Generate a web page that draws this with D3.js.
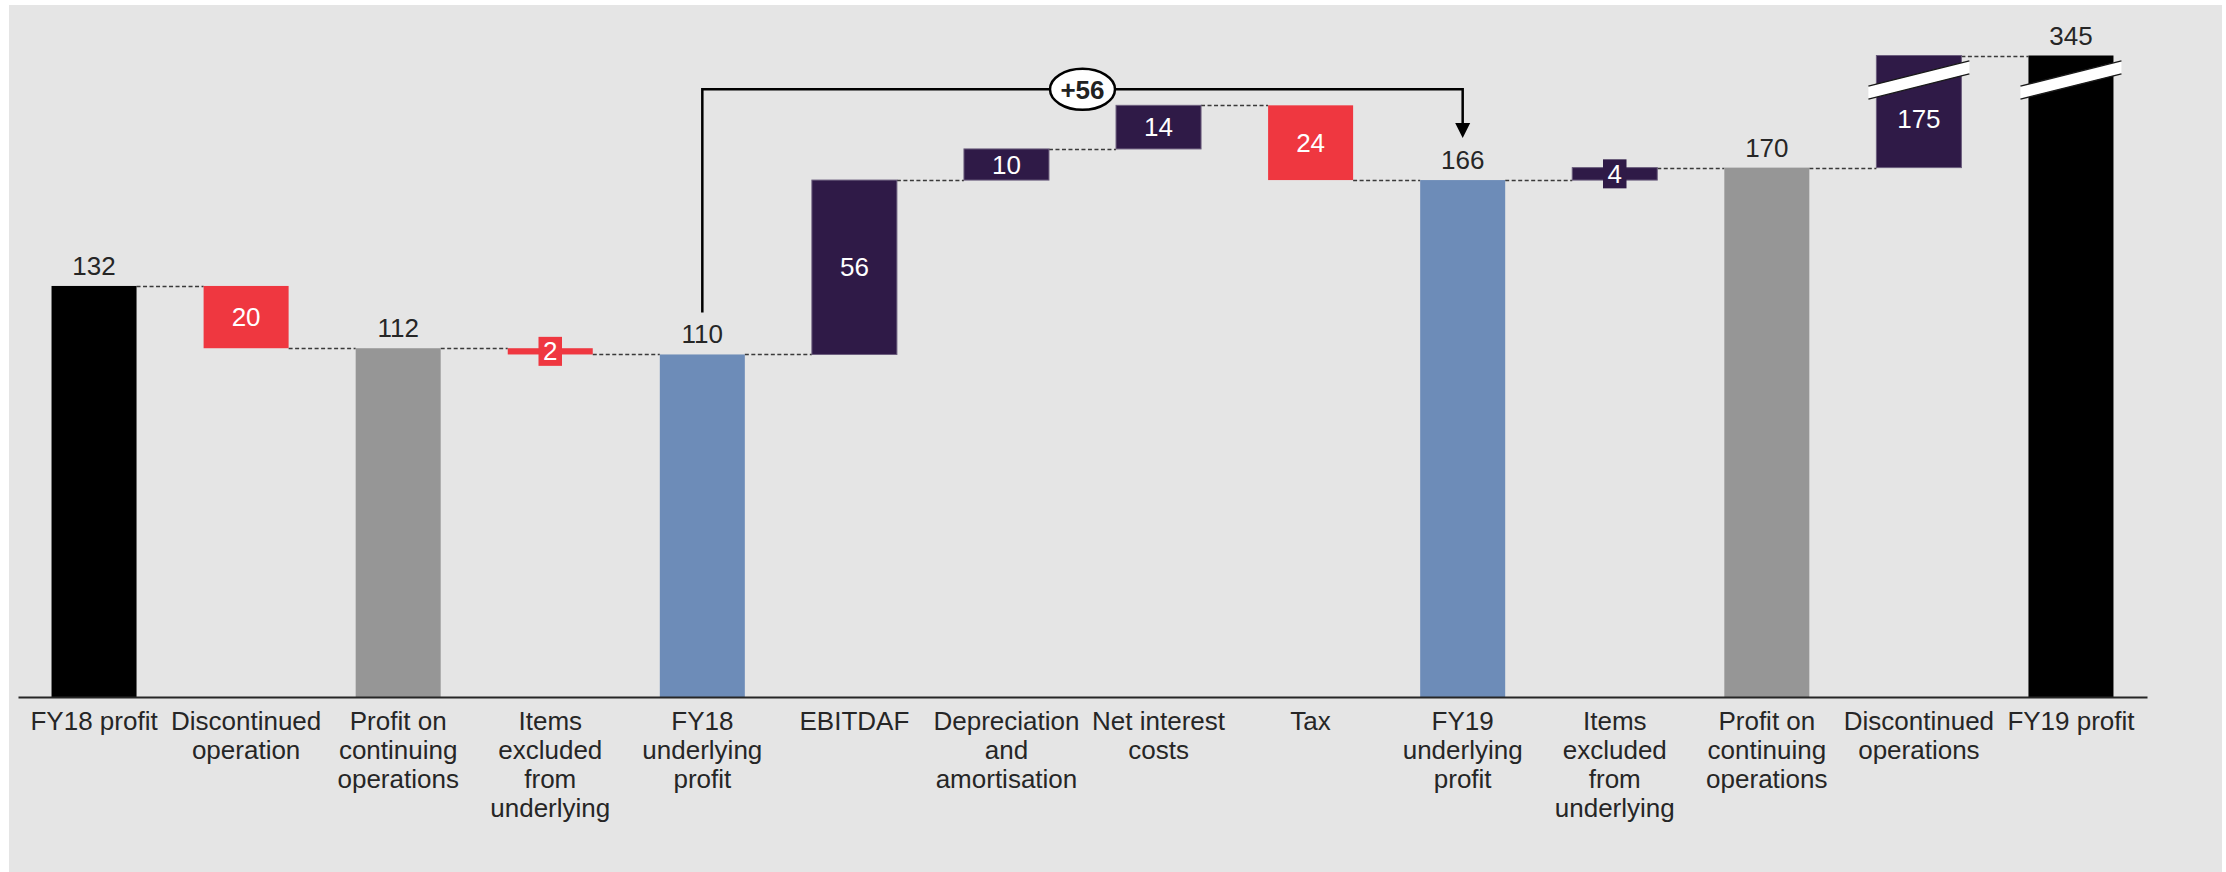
<!DOCTYPE html>
<html>
<head>
<meta charset="utf-8">
<script src="https://cdn.jsdelivr.net/npm/d3@7"></script>
<style>
  html, body { margin: 0; padding: 0; background: #ffffff; }
  svg { display: block; }
  text { font-family: "Liberation Sans", Arial, Helvetica, sans-serif; }
</style>
</head>
<body>
<svg id="chart" width="2226" height="872"></svg>
<script>
// Profit bridge FY18 -> FY19 (waterfall)
const categories = [
  ["FY18 profit"],
  ["Discontinued", "operation"],
  ["Profit on", "continuing", "operations"],
  ["Items", "excluded", "from", "underlying"],
  ["FY18", "underlying", "profit"],
  ["EBITDAF"],
  ["Depreciation", "and", "amortisation"],
  ["Net interest", "costs"],
  ["Tax"],
  ["FY19", "underlying", "profit"],
  ["Items", "excluded", "from", "underlying"],
  ["Profit on", "continuing", "operations"],
  ["Discontinued", "operations"],
  ["FY19 profit"]
];
const values = [132, -20, 112, -2, 110, 56, 10, 14, -24, 166, 4, 170, 175, 345];
const kinds = ["profit", "step", "continuing", "step", "underlying", "step", "step",
               "step", "step", "underlying", "step", "continuing", "step", "profit"];
// underlying-profit bridge drawn as an arrow between these two bars
const bridgeFrom = 4;
const bridgeTo = 9;
// values above this are drawn on a compressed (broken) part of the axis
const breakValue = 200;

const fills = {
  profit: "#000000",
  continuing: "#969696",
  underlying: "#6d8cb8",
  up: "#2f1a47",
  down: "#ef3740"
};
const textColor = "#262626";

const svg = d3.select("#chart");
const W = 2226, H = 872;

// panel background
svg.append("rect").attr("x", 9).attr("y", 5).attr("width", W - 9 - 4).attr("height", H - 5)
  .attr("fill", "#e5e5e5");

const n = values.length;
const x = d3.scaleBand().domain(d3.range(n)).range([18, 2147])
  .paddingInner(0.441).paddingOuter(0.2205);
const bw = x.bandwidth();
const baseY = 697;
const pxPerUnit = 3.114;
const y = d3.scaleLinear()
  .domain([0, breakValue, d3.max(values)])
  .range([baseY, baseY - breakValue * pxPerUnit, 55.5]);

// running totals
let run = 0;
const rows = values.map((v, i) => {
  let lo, hi, fill;
  if (kinds[i] === "step") {
    lo = Math.min(run, run + v);
    hi = Math.max(run, run + v);
    run += v;
    fill = v >= 0 ? fills.up : fills.down;
  } else {
    lo = 0; hi = v; run = v;
    fill = fills[kinds[i]];
  }
  return { i, v, lo, hi, end: run, kind: kinds[i], fill };
});

// dashed connectors between consecutive bars
const gConn = svg.append("g");
rows.slice(0, -1).forEach(r => {
  const yy = Math.round(y(r.end)) + 0.5;
  gConn.append("line")
    .attr("x1", x(r.i) + bw).attr("x2", x(r.i + 1))
    .attr("y1", yy).attr("y2", yy)
    .attr("stroke", "#3a3a3a").attr("stroke-width", 1.5)
    .attr("stroke-dasharray", "4,2.5");
});

// bars
const gBars = svg.append("g");
gBars.selectAll("rect").data(rows).join("rect")
  .attr("x", d => x(d.i))
  .attr("y", d => y(d.hi))
  .attr("width", bw)
  .attr("height", d => y(d.lo) - y(d.hi))
  .attr("fill", d => d.fill)
  .attr("stroke", d => d.fill === fills.up ? "#6b5d7d" : "none")
  .attr("stroke-width", 1);

// axis-break stripes on bars that reach the compressed range
const gBreak = svg.append("g");
rows.filter(d => d.hi > breakValue).forEach(d => {
  const xl = x(d.i) - 8, xr = x(d.i) + bw + 8;
  const yc = y(d.hi) + 24.5;
  const half = (xr - xl) / 2, slope = 0.25, th = 6.5;
  const yl = yc + slope * half, yr = yc - slope * half;
  gBreak.append("polygon")
    .attr("points", [[xl, yl - th], [xr, yr - th], [xr, yr + th], [xl, yl + th]].join(" "))
    .attr("fill", "#ffffff");
  [-th, th].forEach(o => {
    gBreak.append("line")
      .attr("x1", xl).attr("y1", yl + o).attr("x2", xr).attr("y2", yr + o)
      .attr("stroke", "#1a1a1a").attr("stroke-width", 1.5);
  });
});

// value labels
const gLab = svg.append("g").attr("font-size", 26).attr("text-anchor", "middle");
rows.forEach(d => {
  const cx = x(d.i) + bw / 2;
  if (d.kind !== "step") {
    gLab.append("text").attr("x", cx).attr("y", y(d.hi) - 11)
      .attr("fill", textColor).text(d.v);
    return;
  }
  const label = String(Math.abs(d.v));
  const top = y(d.hi), bot = y(d.lo);
  let cy = (top + bot) / 2;
  if (d.hi > breakValue) cy += 7;
  if (bot - top < 20) {
    const bwid = 9 + 14.5 * label.length;
    gLab.append("rect").attr("x", cx - bwid / 2).attr("y", cy - 14.5)
      .attr("width", bwid).attr("height", 29).attr("fill", d.fill);
  }
  gLab.append("text").attr("x", cx).attr("y", cy).attr("dy", "0.35em")
    .attr("fill", "#ffffff").text(label);
});

// bridge arrow between the two underlying-profit bars
const x1 = x(bridgeFrom) + bw / 2, x2 = x(bridgeTo) + bw / 2;
const peak = d3.max(rows.slice(bridgeFrom + 1, bridgeTo), d => d.hi);
const yTop = y(peak) - 16;
const yStart = y(values[bridgeFrom]) - 42;
const yTip = y(values[bridgeTo]) - 42;
const ah = 15;
const gBridge = svg.append("g");
gBridge.append("path")
  .attr("d", `M${x1},${yStart}V${yTop}H${x2}V${yTip - ah}`)
  .attr("fill", "none").attr("stroke", "#000").attr("stroke-width", 2.5);
gBridge.append("path")
  .attr("d", `M${x2 - 7.5},${yTip - ah}L${x2 + 7.5},${yTip - ah}L${x2},${yTip}Z`)
  .attr("fill", "#000");
const mid = (x1 + x2) / 2;
gBridge.append("ellipse").attr("cx", mid).attr("cy", yTop).attr("rx", 32.5).attr("ry", 20.5)
  .attr("fill", "#ffffff").attr("stroke", "#000").attr("stroke-width", 2.5);
const diff = values[bridgeTo] - values[bridgeFrom];
gBridge.append("text").attr("x", mid).attr("y", yTop).attr("dy", "0.36em")
  .attr("text-anchor", "middle").attr("font-size", 26).attr("font-weight", "bold")
  .attr("fill", "#222").text((diff >= 0 ? "+" : "") + diff);

// category axis
const axis = svg.append("g").attr("transform", `translate(0,${baseY})`)
  .call(d3.axisBottom(x).tickSizeInner(0).tickSizeOuter(0).tickFormat(""));
axis.select(".domain").attr("stroke", textColor).attr("stroke-width", 2);
axis.selectAll(".tick text").each(function (i) {
  const t = d3.select(this);
  t.attr("dy", null).attr("y", 0).attr("font-size", 26).attr("fill", textColor)
    .attr("font-family", "\"Liberation Sans\", Arial, sans-serif");
  categories[i].forEach((line, k) => {
    t.append("tspan").attr("x", 0).attr("y", 33 + 29 * k).text(line);
  });
});
</script>
</body>
</html>
